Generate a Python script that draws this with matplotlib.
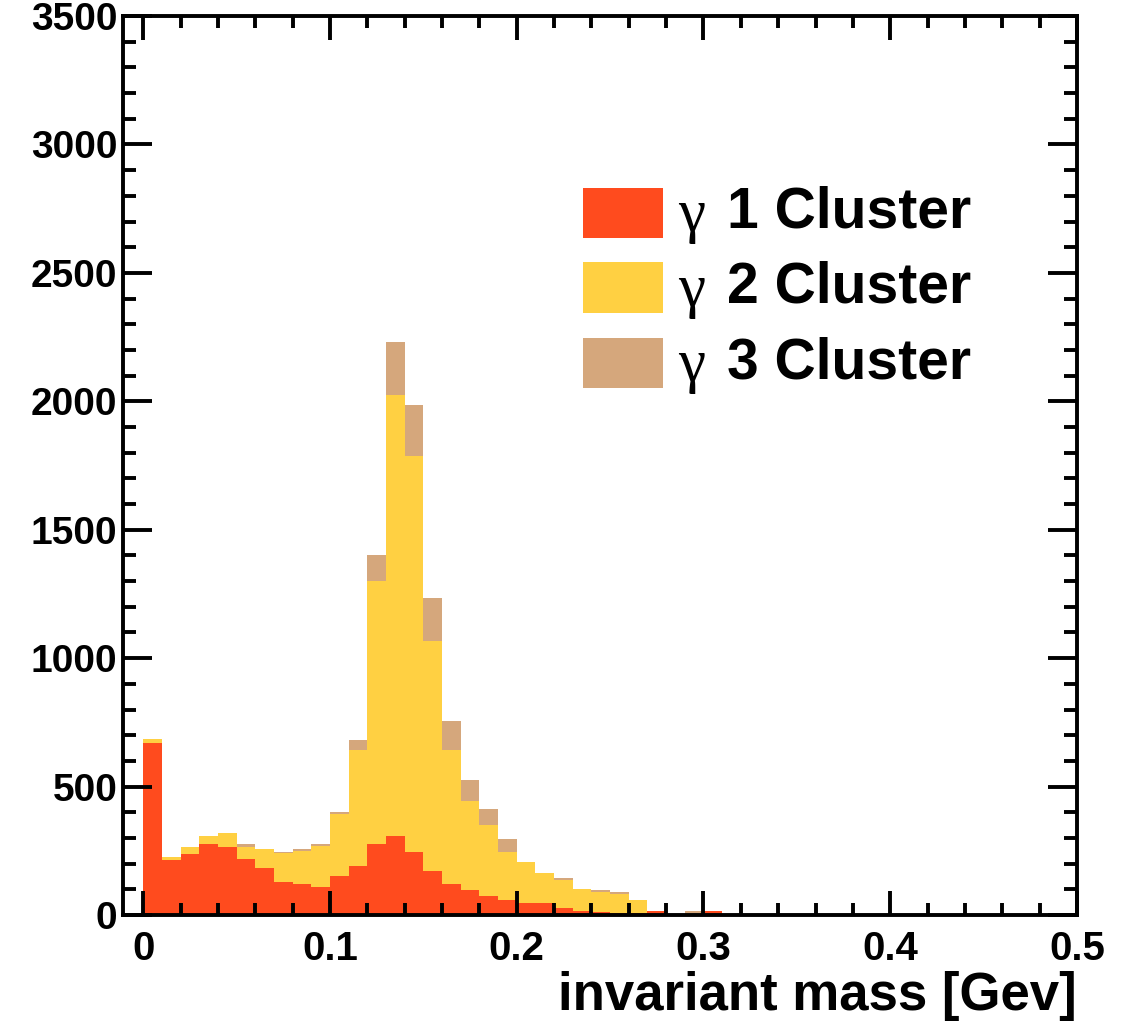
# stacked invariant mass histogram (ROOT style) redrawn with matplotlib

import numpy as np
import matplotlib.pyplot as plt
from matplotlib.ticker import MultipleLocator, FixedLocator, FixedFormatter
from matplotlib.patches import Rectangle

# bins of 0.01 GeV starting at 0
bin_width = 0.01
bin_lefts = np.round(np.arange(31) * bin_width, 2)

# counts per bin for each cluster multiplicity (not cumulative)
one_cluster = [671, 214, 236, 277, 266, 217, 182, 130, 121, 110, 150, 192, 276, 306, 247,
               173, 121, 97, 73, 58, 48, 48, 26, 17, 13, 9, 8, 15, 0, 0, 17]
two_cluster = [14, 11, 30, 31, 52, 49, 74, 110, 130, 159, 244, 451, 1023, 1717, 1539,
               895, 522, 345, 278, 189, 157, 114, 110, 83, 78, 73, 50, 0, 0, 0, 0]
three_cluster = [0, 0, 0, 0, 0, 11, 0, 7, 5, 8, 7, 39, 101, 207, 198,
                 166, 113, 84, 61, 49, 0, 0, 7, 0, 6, 9, 0, 0, 0, 15, 0]

series_labels = ['1 Cluster', '2 Cluster', '3 Cluster']
series_colors = ['#FF4B1E', '#FFD042', '#D5A77C']

xtick_values = [0, 0.1, 0.2, 0.3, 0.4, 0.5]
xtick_labels = ['0', '0.1', '0.2', '0.3', '0.4', '0.5']
ytick_values = [0, 500, 1000, 1500, 2000, 2500, 3000, 3500]
ytick_labels = ['0', '500', '1000', '1500', '2000', '2500', '3000', '3500']

plt.rcParams['font.family'] = ['Liberation Sans', 'DejaVu Sans']
plt.rcParams['font.weight'] = 'bold'

fig = plt.figure(figsize=(11.35, 10.21), dpi=100)
ax = fig.add_axes([0.1084, 0.1038, 0.8405, 0.8805])

# stacked bars
bottom = np.zeros(len(bin_lefts))
for counts, color in zip([one_cluster, two_cluster, three_cluster], series_colors):
    ax.bar(bin_lefts, counts, width=bin_width, bottom=bottom, align='edge',
           color=color, linewidth=0)
    bottom = bottom + np.array(counts)

ax.set_xlim(-0.0108, 0.5)
ax.set_ylim(0, 3500)

# ticks: inward, on all four sides
ax.xaxis.set_major_locator(FixedLocator(xtick_values))
ax.xaxis.set_major_formatter(FixedFormatter(xtick_labels))
ax.xaxis.set_minor_locator(MultipleLocator(0.02))
ax.yaxis.set_major_locator(FixedLocator(ytick_values))
ax.yaxis.set_major_formatter(FixedFormatter(ytick_labels))
ax.yaxis.set_minor_locator(MultipleLocator(100))

ax.tick_params(axis='both', which='both', direction='in', top=True, right=True, width=2.8)
ax.tick_params(axis='x', which='major', length=17, pad=11, labelsize=29)
ax.tick_params(axis='x', which='minor', length=8.5)
ax.tick_params(axis='y', which='major', length=21, pad=4, labelsize=28)
ax.tick_params(axis='y', which='minor', length=9.5)
for spine in ax.spines.values():
    spine.set_linewidth(2.8)

ax.set_xlabel('invariant mass [Gev]', fontsize=38, fontweight='bold', loc='right', labelpad=2)

# legend drawn by hand: serif gamma followed by bold sans text
box_y = [0.781, 0.698, 0.614]
for lab, col, yc in zip(series_labels, series_colors, box_y):
    ax.add_patch(Rectangle((0.482, yc - 0.028), 0.084, 0.056, transform=ax.transAxes,
                           facecolor=col, edgecolor='none', clip_on=False))
    ax.text(0.582, yc - 0.004, '\u03b3', transform=ax.transAxes, fontsize=44,
            family='Liberation Serif', fontweight='normal', va='center', ha='left')
    ax.text(0.633, yc, lab, transform=ax.transAxes, fontsize=41,
            fontweight='bold', va='center', ha='left')

plt.savefig('out.png', dpi=100)
